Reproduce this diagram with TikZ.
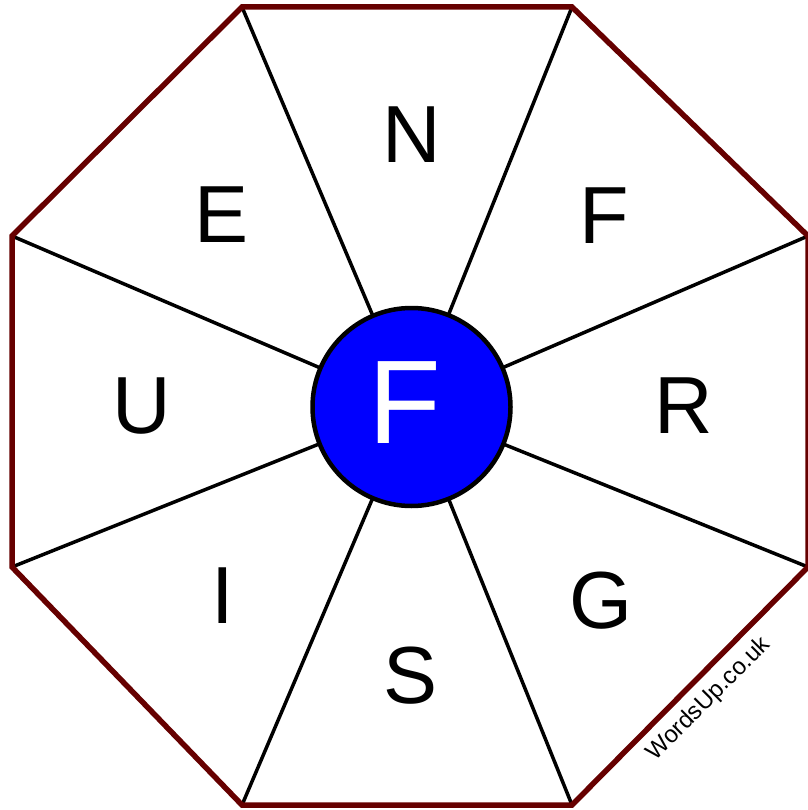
\documentclass[tikz,border=0pt]{standalone}
\usepackage{fontspec}
\setmainfont{Liberation Sans}
\definecolor{rim}{HTML}{660000}
\definecolor{hub}{HTML}{0000FF}
\tikzset{
  rimline/.style={draw=rim, line width=5.5pt, line join=miter},
  spoke/.style={draw=black, line width=3.5pt},
  letter/.style={inner sep=0pt, font=\fontsize{81}{81}\selectfont, text height=58pt, text depth=0pt},
  hubletter/.style={inner sep=0pt, text=white, font=\fontsize{119}{119}\selectfont, text height=85pt, text depth=0pt},
}
\begin{document}
\begin{tikzpicture}[x=1pt,y=-1pt]
\useasboundingbox (0,0) rectangle (807,810);
\coordinate (v1) at (242,7);
\coordinate (v2) at (572,7);
\coordinate (v3) at (808,236);
\coordinate (v4) at (808,567);
\coordinate (v5) at (572,805);
\coordinate (v6) at (242,805);
\coordinate (v7) at (12,567);
\coordinate (v8) at (12,236);
\coordinate (c) at (411.5,407);
\foreach \i in {1,...,8} \draw[spoke] (v\i) -- (c);
\draw[rimline] (v1) -- (v2) -- (v3) -- (v4) -- (v5) -- (v6) -- (v7) -- (v8) -- cycle;
\node[circle, draw=black, line width=4.5pt, fill=hub, minimum size=198pt, inner sep=0pt] (hub) at (c) {};
\node[hubletter] (hl) at (405,400.5) {F};
\node[letter] (lN) at (411.5,134) {N};
\node[letter] (lF) at (604,214) {F};
\node[letter] (lR) at (684,404) {R};
\node[letter] (lG) at (601,599) {G};
\node[letter] (lS) at (410.5,674) {S};
\node[letter] (lI) at (223,594.5) {I};
\node[letter] (lU) at (142,404) {U};
\node[letter] (lE) at (222,213) {E};
\node[inner sep=0pt, rotate=45, font=\fontsize{24}{24}\selectfont] (wm) at (709,699) {WordsUp.co.uk};
\end{tikzpicture}
\end{document}
